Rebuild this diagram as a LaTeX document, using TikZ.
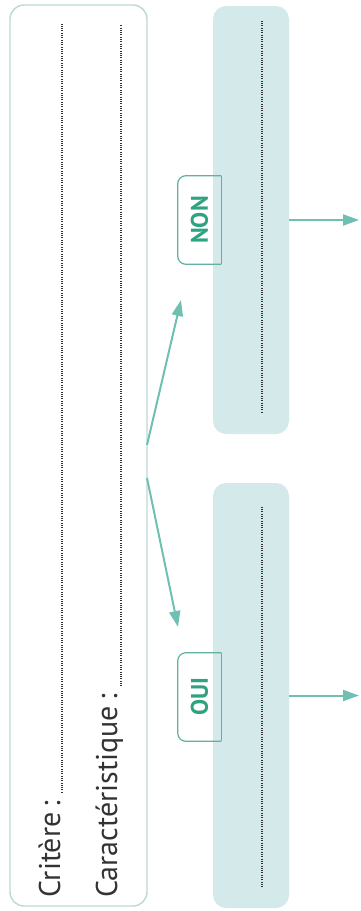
\documentclass[tikz,border=0pt]{standalone}
\usepackage{fontspec}
\setmainfont{PT Sans}
\usetikzlibrary{arrows.meta,calc}
\definecolor{frame}{HTML}{BFD6D6}
\definecolor{panelfill}{HTML}{D3E9EA}
\definecolor{arrowteal}{HTML}{6FC0B3}
\definecolor{tabgreen}{HTML}{2FA381}
\definecolor{tabline}{HTML}{62B0A1}
\definecolor{inkgray}{HTML}{333333}

\begin{document}
\begin{tikzpicture}[x=1pt,y=-1pt,line width=.5pt,
  panel/.style={fill=panelfill,rounded corners=13pt,minimum width=76pt,inner sep=0pt},
  tab/.style={minimum width=43pt,minimum height=88pt,inner sep=0pt,text=tabgreen,font=\fontsize{24}{28}\selectfont\bfseries},
  tabedge/.style={draw=tabline,line width=1.2pt},
  dotline/.style={draw=inkgray,line width=1.2pt,dash pattern=on .8pt off 1.5pt},
  flow/.style={draw=arrowteal,line width=2pt,-{Triangle[length=16pt,width=11pt]}},
  prompt/.style={rotate=90,anchor=base west,inner sep=0pt,text=inkgray,font=\fontsize{30}{35}\selectfont}]
\path[use as bounding box] (0,0) rectangle (360,911);
% left frame with the two prompts
\node[draw=frame,line width=1.4pt,rounded corners=14pt,minimum width=137pt,minimum height=901pt,inner sep=0pt] (crit) at (78.5,455.5) {};
\node[prompt] (critere) at (60,898) {Critère\,:};
\draw[dotline] ($(critere.base east)+(2,-8)$) -- (62,24);
\node[prompt] (caract) at (117,898) {Caractéristique\,:};
\draw[dotline] ($(caract.base east)+(4,-8)$) -- (121,24);
% answer panels
\node[panel,minimum height=428pt] (non) at (251,220) {};
\node[panel,minimum height=425pt] (oui) at (251,695.5) {};
\draw[dotline] ($(non.north)+(11,15)$) -- ($(non.south)+(11,-21)$);
\draw[dotline] ($(oui.north)+(11,24)$) -- ($(oui.south)+(11,-20)$);
% tabs
\node[tab] (nonlab) at (199.5,220) {\rotatebox{90}{NON}};
\node[tab] (ouilab) at (199.5,697) {\rotatebox{90}{OUI}};
\draw[tabedge,rounded corners=8pt] (nonlab.north east) -- (nonlab.north west) -- (nonlab.south west) -- (nonlab.south east);
\draw[tabedge] (nonlab.north east) -- (nonlab.south east);
\draw[tabedge,rounded corners=8pt] (ouilab.north east) -- (ouilab.north west) -- (ouilab.south west) -- (ouilab.south east);
\draw[tabedge] (ouilab.north east) -- (ouilab.south east);
% arrows
\coordinate (forknon) at (147,445);
\coordinate (forkoui) at (147,478);
\coordinate (tipnon) at (181,300);
\coordinate (tipoui) at (178,627);
\coordinate (outnon) at (359,220);
\coordinate (outoui) at (359,695.5);
\draw[flow] (forknon) -- (tipnon);
\draw[flow] (forkoui) -- (tipoui);
\draw[flow] (non.east) -- (outnon);
\draw[flow] (oui.east) -- (outoui);
\end{tikzpicture}
\end{document}
